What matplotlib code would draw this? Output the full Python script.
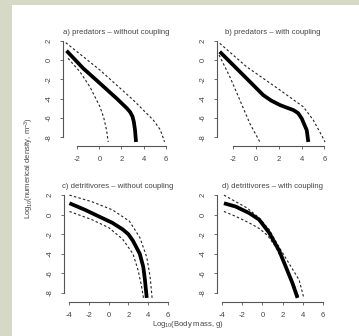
import numpy as np
import matplotlib
matplotlib.use("Agg")
import matplotlib.pyplot as plt
from matplotlib.patches import Rectangle

plt.rcParams['font.family'] = ['Liberation Sans', 'DejaVu Sans']
plt.rcParams['mathtext.fontset'] = 'custom'
plt.rcParams['mathtext.rm'] = 'Liberation Sans'
plt.rcParams['mathtext.it'] = 'Liberation Sans'

# ---- data (log10 body mass, log10 density) ----
# a) predators - without coupling
a_mid_x = [-2.98, -1.47, 0.05, 1.56, 2.45, 2.77, 3.0, 3.12, 3.23, 3.32]
a_mid_y = [0.99, -0.84, -2.40, -3.97, -4.95, -5.36, -5.85, -6.4, -7.27, -8.5]
a_hi_x = [-3.05, 0.05, 3.07, 4.89, 5.5, 5.8, 5.9]
a_hi_y = [1.83, -1.02, -4.14, -6.23, -7.2, -8.13, -8.5]
a_lo_x = [-2.84, -1.77, -0.86, 0.05, 0.4, 0.65, 0.8]
a_lo_y = [0.20, -1.19, -2.76, -4.84, -6.0, -7.27, -8.5]

# b) predators - with coupling
b_mid_x = [-3.16, -2.28, -0.82, 0.64, 1.35, 2.11, 2.75, 3.28, 3.7, 4.01, 4.45, 4.59]
b_mid_y = [0.89, -0.15, -1.88, -3.62, -4.2, -4.66, -4.95, -5.18, -5.5, -6.05, -7.27, -8.5]
b_hi_x = [-3.16, -0.82, 2.11, 4.15, 5.03, 5.9, 6.05]
b_hi_y = [1.76, -0.67, -3.1, -4.84, -6.23, -8.13, -8.5]
b_lo_x = [-3.22, -2.28, -1.4, -0.53, 0.35]
b_lo_y = [0.55, -1.71, -4.14, -6.57, -8.5]

# c) detritivores - without coupling
c_mid_x = [-3.95, -2.39, -1.0, 0.38, 1.42, 2.0, 2.46, 3.15, 3.5, 3.67, 3.85]
c_mid_y = [1.17, 0.5, -0.17, -0.83, -1.5, -2.0, -2.67, -4.0, -5.33, -6.67, -8.5]
c_hi_x = [-3.95, -1.7, 0.38, 2.11, 3.15, 3.85, 4.19, 4.39]
c_hi_y = [2.0, 1.33, 0.5, -0.67, -2.33, -4.33, -6.33, -8.5]
c_lo_x = [-3.95, -1.7, 0.03, 1.42, 2.46, 2.98, 3.33, 3.52]
c_lo_y = [0.33, -0.5, -1.33, -2.5, -4.0, -5.67, -7.33, -8.5]

# d) detritivores - with coupling
d_mid_x = [-3.81, -2.65, -1.32, -0.33, 0.66, 1.66, 2.32, 2.98, 3.48]
d_mid_y = [1.17, 0.83, 0.17, -0.5, -1.83, -3.67, -5.33, -7.0, -8.5]
d_hi_x = [-3.81, -2.65, -1.49, -0.33, 0.66, 1.66, 2.65, 3.64, 4.1]
d_hi_y = [2.0, 1.33, 0.67, -0.33, -1.5, -3.33, -5.0, -6.67, -8.5]
d_lo_x = [-3.81, -2.65, -1.32, -0.33, 0.5, 1.32, 2.15, 2.98, 3.62]
d_lo_y = [0.33, -0.17, -0.83, -1.4, -2.1, -3.3, -5.0, -6.7, -8.5]

titles = ["a) predators \u2013 without coupling", "b) predators \u2013 with coupling",
          "c) detritivores \u2013 without coupling", "d) detritivores \u2013 with coupling"]
yticks = [2, 0, -2, -4, -6, -8]
xticks_pred = [-2, 0, 2, 4, 6]
xticks_det = [-4, -2, 0, 2, 4, 6]

W, H = 359, 336
fig = plt.figure(figsize=(W / 100, H / 100), dpi=100, facecolor='#d6d9c6')
bg = Rectangle((12 / W, 0), 1 - 12 / W, (H - 5) / H, transform=fig.transFigure,
               facecolor='white', edgecolor='none', zorder=-10)
fig.add_artist(bg)


def box(left, top, right, bottom):
    # pixel box -> figure fraction
    return [left / W, 1 - bottom / H, (right - left) / W, (bottom - top) / H]


panels = [
    (box(63, 37, 170, 146), (-3.3, 6.4), xticks_pred, a_mid_x, a_mid_y, a_hi_x, a_hi_y, a_lo_x, a_lo_y),
    (box(217, 37, 329, 146), (-3.4, 6.4), xticks_pred, b_mid_x, b_mid_y, b_hi_x, b_hi_y, b_lo_x, b_lo_y),
    (box(64, 191, 172, 302), (-4.5, 6.4), xticks_det, c_mid_x, c_mid_y, c_hi_x, c_hi_y, c_lo_x, c_lo_y),
    (box(217, 191, 327, 302), (-4.5, 6.4), xticks_det, d_mid_x, d_mid_y, d_hi_x, d_hi_y, d_lo_x, d_lo_y),
]

axcol = '#555555'
txtcol = '#444444'
for i, (pos, xl, xt, mx, my, hx, hy, lx, ly) in enumerate(panels):
    ax = fig.add_axes(pos)
    ax.patch.set_alpha(0)
    ax.plot(hx, hy, color='#222222', lw=0.8, dashes=(2.2, 2.0))
    ax.plot(lx, ly, color='#222222', lw=0.8, dashes=(2.2, 2.0))
    ax.plot(mx, my, color='black', lw=2.7, solid_capstyle='butt',
            solid_joinstyle='round')
    ax.set_xlim(*xl)
    ax.set_ylim(-8.92, 2.42)
    ax.set_xticks(xt)
    ax.set_xticklabels([str(v) for v in xt])
    ax.set_yticks(yticks)
    ax.set_yticklabels([str(v) for v in yticks], rotation=90, va='center')
    for s in ['top', 'right']:
        ax.spines[s].set_visible(False)
    ax.spines['left'].set_bounds(-8, 2)
    ax.spines['bottom'].set_bounds(xt[0], xt[-1])
    for s in ['left', 'bottom']:
        ax.spines[s].set_color(axcol)
        ax.spines[s].set_linewidth(0.8)
    ax.tick_params(length=2.5, width=0.6, color=axcol, labelsize=5.5,
                   labelcolor=txtcol, pad=5)
    ax.set_title(titles[i], fontsize=5.6, color=txtcol, pad=2.2)

fig.text(29 / W, 1 - 168 / H, r'Log$_{10}$(numerical density, m$^{-3}$)',
         rotation=90, ha='center', va='center', fontsize=5.5, color=txtcol)
fig.text(188 / W, 1 - 325 / H, r'Log$_{10}$(Body mass, g)',
         ha='center', va='center', fontsize=5.5, color=txtcol)

fig.savefig('out.png', dpi=100, facecolor=fig.get_facecolor())
